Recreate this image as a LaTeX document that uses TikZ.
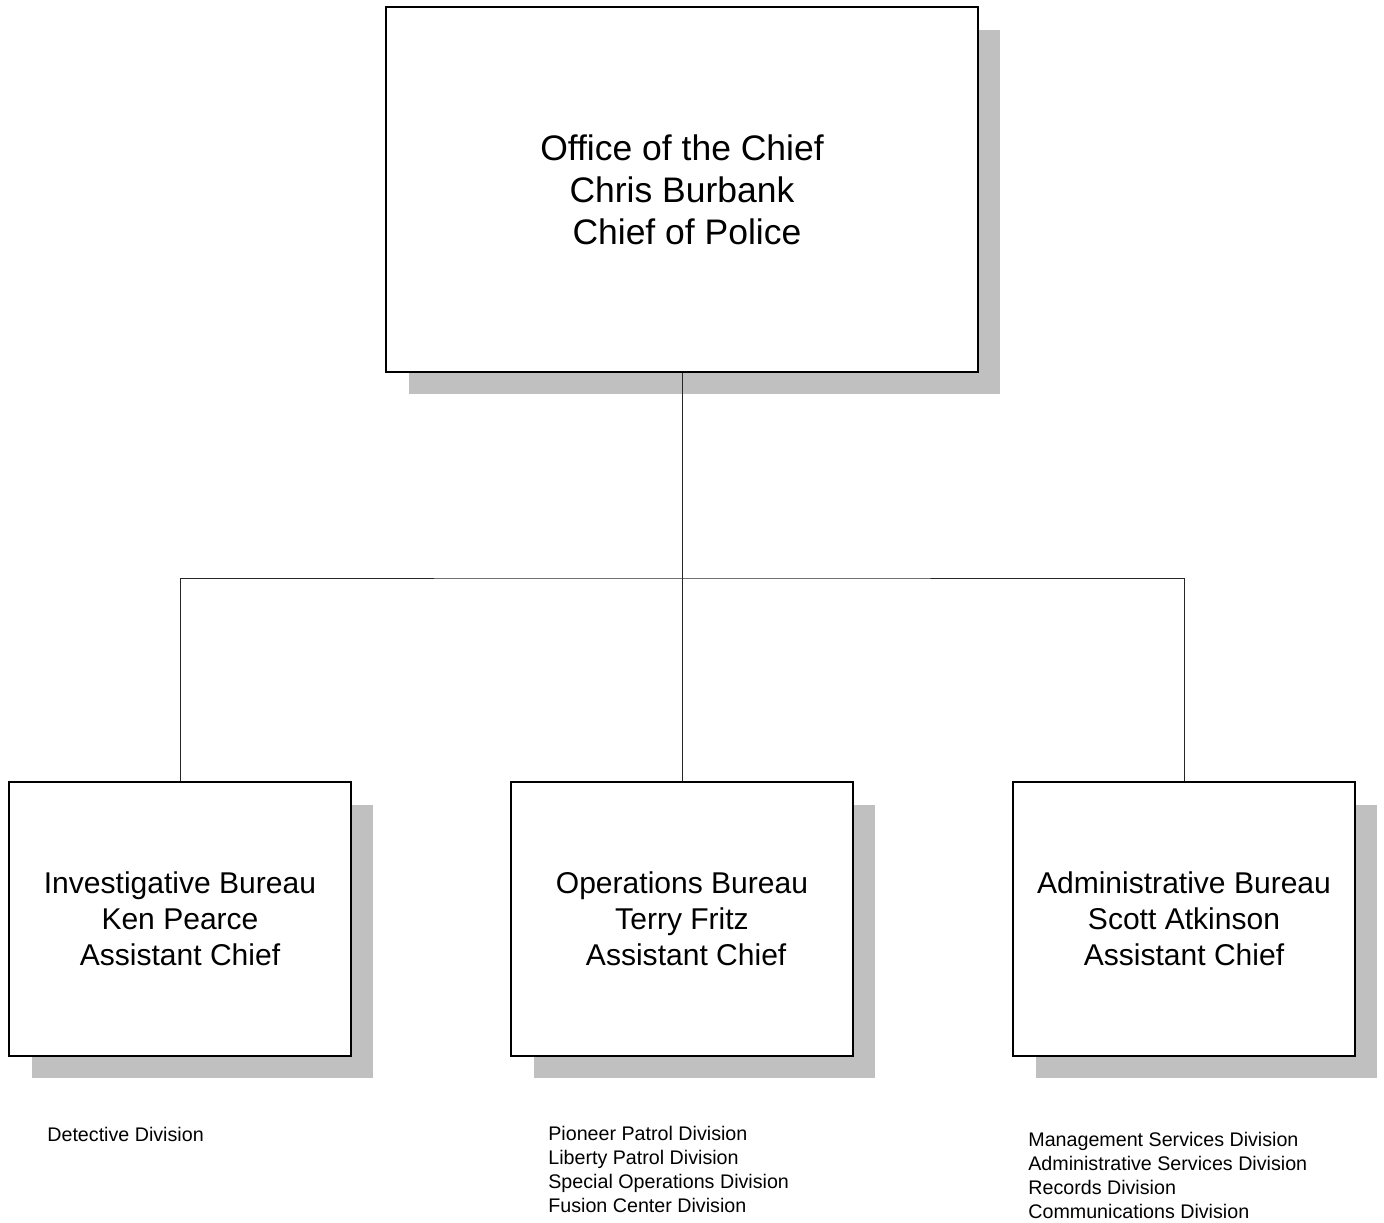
\documentclass[tikz,border=0pt]{standalone}
\usepackage{fontspec}
\setmainfont{Liberation Sans}
\usetikzlibrary{positioning,shadows}
\definecolor{shadowgray}{HTML}{C0C0C0}

\begin{document}
\begin{tikzpicture}[x=0.02cm,y=-0.02cm,
  boxshadow/.style={drop shadow={shadow xshift=0.45cm,shadow yshift=-0.45cm,fill=shadowgray,opacity=1}},
  chiefbox/.style={draw,line width=0.9pt,fill=white,boxshadow,align=center,inner sep=0pt,
    minimum width=11.84cm,minimum height=7.3cm,font=\fontsize{20.2}{23.9}\selectfont},
  bureaubox/.style={draw,line width=0.9pt,fill=white,boxshadow,align=center,inner sep=0pt,
    minimum width=6.84cm,minimum height=5.48cm,font=\fontsize{17.1}{20.5}\selectfont},
  divtext/.style={anchor=base west,inner sep=0pt,font=\fontsize{11.2}{13.7}\selectfont},
  wire/.style={line width=0.5pt,draw=black!85}]
\useasboundingbox (0,0) rectangle (1384,1223);
\node[chiefbox] (chief) at (682,189.5) {Office of the Chief\\Chris Burbank\\\ Chief of Police};
\foreach \n/\x/\a/\b/\c in {inv/180/Investigative Bureau/Ken Pearce/Assistant Chief,
  ops/682/Operations Bureau/Terry Fritz/\ Assistant Chief,
  adm/1184/Administrative Bureau/Scott Atkinson/Assistant Chief} {
  \node[bureaubox] (\n) at (\x,919) {\a\\\b\\\c};
}
\coordinate (bus) at (682,578);
\draw[wire] (chief.south) -- (bus);
\draw[wire] (inv.north) |- (bus) -| (adm.north);
\draw[wire] (ops.north) -- (bus);
\node[divtext] (invdiv0) at (47,1141) {Detective Division};
\foreach \t [count=\k from 0] in {Pioneer Patrol Division,Liberty Patrol Division,
  Special Operations Division,Fusion Center Division} {
  \node[divtext] (opsdiv\k) at (548,{1140+24.3*\k}) {\t};
}
\foreach \t [count=\k from 0] in {Management Services Division,Administrative Services Division,
  Records Division,Communications Division} {
  \node[divtext] (admdiv\k) at (1028,{1146+24*\k}) {\t};
}
\end{tikzpicture}
\end{document}
